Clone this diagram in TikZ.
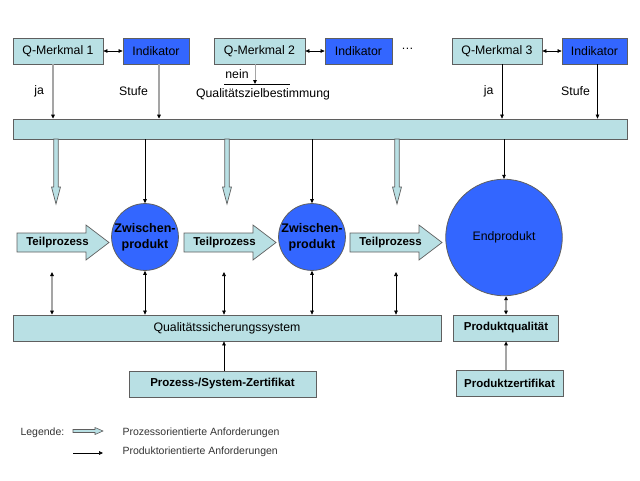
\documentclass[tikz,border=0pt]{standalone}
\usepackage{fontspec}
\setmainfont{Liberation Sans}
\usetikzlibrary{arrows.meta,positioning,calc}
\definecolor{qcyan}{RGB}{185,224,228}
\definecolor{qblue}{RGB}{51,102,255}
\definecolor{qedge}{RGB}{95,95,95}
\definecolor{qgrey}{RGB}{165,165,165}
\tikzset{
  >={Triangle[length=4pt,width=3.6pt,color=black]},
  txt/.style={font=\fontsize{12.3}{14}\selectfont},
  btxt/.style={font=\bfseries\fontsize{11.5}{13.5}\selectfont},
  ltxt/.style={font=\fontsize{10.5}{12}\selectfont,text=black!80},
  box/.style={draw=qedge,line width=0.8pt,fill=qcyan,inner sep=0pt,minimum height=26pt,txt},
  ibox/.style={box,fill=qblue},
  rund/.style={circle,draw=qedge,line width=0.8pt,fill=qblue,inner sep=0pt,align=center},
  parrow/.style={->,line width=0.6pt},
  garrow/.style={->,line width=1.4pt,draw=qgrey},
  pdarrow/.style={<->,line width=0.6pt},
  gdarrow/.style={<->,line width=1.4pt,draw=qgrey},
  hohl/.style={draw=qedge,line width=0.7pt,fill=qcyan},
}
\begin{document}
\begin{tikzpicture}[x=1pt,y=-1pt]
\useasboundingbox (0,0) rectangle (640,480);
% Merkmale und Indikatoren
\node[box,minimum width=90pt] (qm1) at (58,51) {Q-Merkmal 1};
\node[ibox,minimum width=66pt] (ind1) at (156,51) {Indikator};
\node[box,minimum width=91pt] (qm2) at (259.5,51) {Q-Merkmal 2};
\node[ibox,minimum width=67pt] (ind2) at (358.5,51) {Indikator};
\node[txt] (dots) at (407.5,49) {…};
\node[box,minimum width=90pt] (qm3) at (497,51) {Q-Merkmal 3};
\node[ibox,minimum width=65pt] (ind3) at (594.5,51) {Indikator};
\draw[pdarrow] (qm1) -- (ind1);
\draw[pdarrow] (qm2) -- (ind2);
\draw[pdarrow] (qm3) -- (ind3);

\node[box,minimum width=614pt,minimum height=20pt] (bar) at (320,129) {};

\draw[garrow] ([xshift=-5pt]qm1.south) -- ([xshift=-5pt]qm1.south |- bar.north) node[midway,left=5pt,txt,text=black]{ja};
\draw[garrow] ([xshift=3pt]ind1.south) -- ([xshift=3pt]ind1.south |- bar.north) node[midway,left=7pt,txt,text=black]{Stufe};
\draw[parrow] ([xshift=5pt]qm3.south) -- ([xshift=5pt]qm3.south |- bar.north) node[midway,left=5pt,txt]{ja};
\draw[parrow] ([xshift=3pt]ind3.south) -- ([xshift=3pt]ind3.south |- bar.north) node[midway,left=4pt,txt]{Stufe};

% Qualitaetszielbestimmung
\coordinate (zl) at (255,84);
\draw[line width=0.6pt] ($(zl)+(-31,0)$) -- ($(zl)+(35,0)$);
\draw[garrow,line width=1pt] (zl |- qm2.south) -- (zl);
\node[txt] (nein) at (237,74) {nein};
\node[txt] (zb) at (263,94) {Qualitätszielbestimmung};

% prozessorientierte Anforderungen
\foreach \x in {56,227,397}
  \draw[hohl] (\x-2.25,139) -- (\x-2.25,187) -- (\x-4.5,187) -- (\x,204)
    -- (\x+4.5,187) -- (\x+2.25,187) -- (\x+2.25,139) -- cycle;

% Teilprozesse
\foreach \x/\n in {17/1,184/2,350/3}{
  \draw[hohl] (\x,233) -- (\x+69,233) -- (\x+69,225) -- (\x+92,242.5)
    -- (\x+69,260) -- (\x+69,252) -- (\x,252) -- cycle;
  \node[btxt] (tp\n) at (\x+40.5,242.5) {Teilprozess};
}

\node[rund,minimum size=66pt,font=\bfseries\fontsize{12.5}{16}\selectfont] (zp1) at (145,237) {Zwischen-\\produkt};
\node[rund,minimum size=66pt,font=\bfseries\fontsize{12.5}{16}\selectfont] (zp2) at (312,237) {Zwischen-\\produkt};
\node[rund,minimum size=116.5pt,txt] (ep) at (504,237.5) {Endprodukt};

\draw[parrow] (zp1 |- bar.south) -- (zp1.north);
\draw[parrow] (zp2 |- bar.south) -- (zp2.north);
\draw[parrow] (ep |- bar.south) -- (ep.north);

% Sicherung und Zertifikate
\node[box,minimum width=428pt] (qs) at (227,328) {Qualitätssicherungssystem};
\node[box,minimum width=105pt,btxt] (pq) at (506,328) {Produktqualität};
\node[box,minimum width=187pt,btxt] (zs) at (222.5,384) {Prozess-/System-Zertifikat};
\node[box,minimum width=107pt,btxt] (pz) at (509.5,383) {Produktzertifikat};

\coordinate (u1) at (52,272);
\coordinate (u2) at (224,272);
\coordinate (u3) at (396,272);
\draw[gdarrow,line width=1.2pt] (u1) -- (u1 |- qs.north);
\draw[pdarrow] (u2) -- (u2 |- qs.north);
\draw[pdarrow] (u3) -- (u3 |- qs.north);
\draw[pdarrow] (zp1.south) -- (zp1 |- qs.north);
\draw[pdarrow] (zp2.south) -- (zp2 |- qs.north);
\draw[gdarrow,line width=1.2pt] (pq.north |- ep.south) -- (pq.north);
\draw[garrow,line width=1.2pt] (pz.north -| pq) -- (pq.south);
\draw[parrow] (zs.north -| u2) -- (u2 |- qs.south);

% Legende
\node[ltxt,anchor=west] (leg) at (17,432.7) {Legende:};
\draw[hohl,line width=0.6pt] (73,429.5) -- (95,429.5) -- (95,427.5) -- (103,431)
  -- (95,434.5) -- (95,432.5) -- (73,432.5) -- cycle;
\node[ltxt,anchor=west] (l1) at (119,432.7) {Prozessorientierte Anforderungen};
\coordinate (l2a) at (73,453);
\draw[parrow] (l2a) -- ++(30,0);
\node[ltxt,anchor=west] (l2) at (119,452) {Produktorientierte Anforderungen};
\end{tikzpicture}
\end{document}
